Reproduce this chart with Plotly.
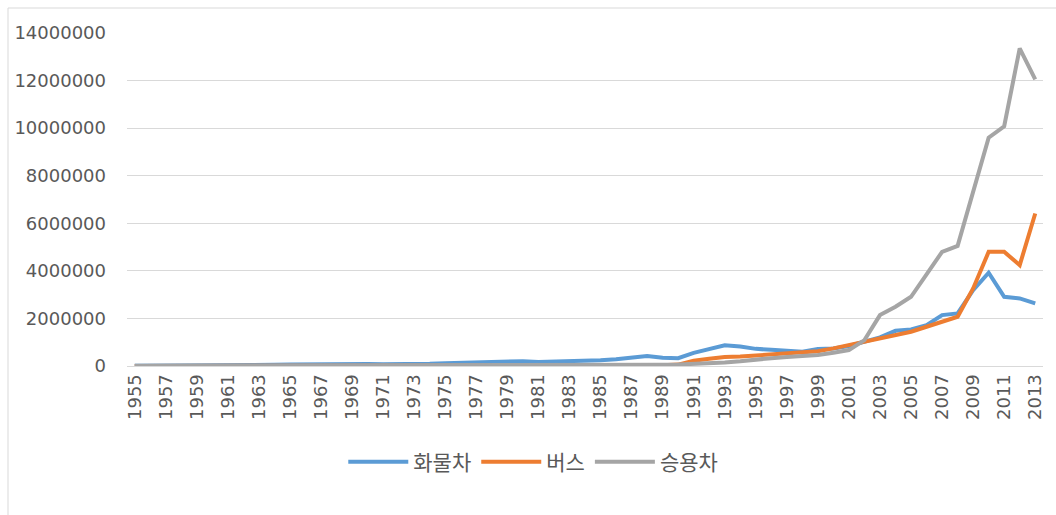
import plotly.graph_objects as go

years = list(range(1955, 2014))

truck = [10000, 10000, 20000, 40000, 50000, 50000, 20000, 20000, 40000, 50000,
         60000, 70000, 80000, 80000, 80000, 80000, 70000, 70000, 80000, 90000,
         120000, 140000, 160000, 170000, 180000, 200000, 170000, 180000, 190000, 200000,
         240000, 280000, 330000, 420000, 350000, 330000, 550000, 720000, 870000, 820000,
         720000, 680000, 620000, 600000, 720000, 740000, 840000, 1020000, 1200000, 1480000,
         1540000, 1720000, 2140000, 2210000, 3190000, 3920000, 2910000, 2840000, 2630000]

bus = [5000, 5000, 5000, 5000, 5000, 5000, 5000, 5000, 5000, 5000,
       5000, 5000, 5000, 5000, 5000, 5000, 5000, 5000, 5000, 5000,
       5000, 5000, 5000, 5000, 5000, 5000, 5000, 5000, 5000, 5000,
       10000, 10000, 15000, 20000, 30000, 60000, 220000, 300000, 380000, 400000,
       450000, 500000, 550000, 580000, 620000, 740000, 880000, 1020000, 1120000, 1260000,
       1440000, 1650000, 1860000, 2070000, 3260000, 4800000, 4800000, 4240000, 6410000]

car = [10000, 10000, 10000, 10000, 10000, 10000, 10000, 10000, 15000, 20000,
       20000, 20000, 25000, 25000, 25000, 25000, 25000, 25000, 30000, 30000,
       30000, 30000, 35000, 35000, 35000, 40000, 40000, 40000, 40000, 45000,
       45000, 45000, 50000, 50000, 50000, 60000, 80000, 120000, 150000, 200000,
       280000, 330000, 380000, 420000, 460000, 560000, 670000, 1090000, 2140000, 2490000,
       2910000, 3850000, 4800000, 5050000, 7300000, 9600000, 10080000, 13350000, 12050000]

names = ["화물차", "버스", "승용차"]
colors = ["#5B9BD5", "#ED7D31", "#A5A5A5"]
ytick_vals = [0, 2000000, 4000000, 6000000, 8000000, 10000000, 12000000, 14000000]

FONT = "DejaVu Sans, Noto Sans CJK KR, sans-serif"

fig = go.Figure()
for name, vals, col in zip(names, [truck, bus, car], colors):
    fig.add_trace(go.Scatter(x=years, y=vals, name=name, mode="lines",
                             line=dict(color=col, width=4)))

W, H = 1056, 515
ml, mr, mt, mb = 127, 13, 33, 149
pw, ph = W - ml - mr, H - mt - mb

def px_x(p):
    return (p - ml) / pw

def px_y(p):
    return (H - mb - p) / ph

border = "#D9D9D9"
fig.add_shape(type="line", xref="paper", yref="paper",
              x0=px_x(8), x1=px_x(W), y0=px_y(8), y1=px_y(8),
              line=dict(color=border, width=1))
fig.add_shape(type="line", xref="paper", yref="paper",
              x0=px_x(8), x1=px_x(8), y0=px_y(8), y1=px_y(H),
              line=dict(color=border, width=1))

fig.update_layout(
    width=W, height=H,
    margin=dict(l=ml, r=mr, t=mt, b=mb),
    paper_bgcolor="white", plot_bgcolor="white",
    font=dict(family=FONT, size=18, color="#595959"),
    showlegend=True,
    legend=dict(orientation="h", xref="container", yref="container",
                x=0.505, xanchor="center", y=1 - 462 / H, yanchor="middle",
                font=dict(family="Noto Sans CJK KR, sans-serif", size=21, color="#595959"),
                itemwidth=60, tracegroupgap=0,
                bgcolor="rgba(0,0,0,0)"),
    xaxis=dict(range=[1954.5, 2013.5], tickmode="array",
               tickvals=years[::2], ticktext=[str(y) for y in years[::2]],
               tickangle=-90, showgrid=False, zeroline=False,
               showline=True, linecolor=border, linewidth=1,
               ticks="", tickfont=dict(size=18, color="#595959")),
    yaxis=dict(range=[0, 14000000], tickmode="array", tickvals=ytick_vals,
               ticktext=[str(v) for v in ytick_vals],
               showgrid=True, gridcolor=border, gridwidth=1,
               zeroline=False, showline=False, ticks="",
               ticklabelstandoff=20,
               tickfont=dict(size=18, color="#595959")),
)

fig.write_html("out.html")
